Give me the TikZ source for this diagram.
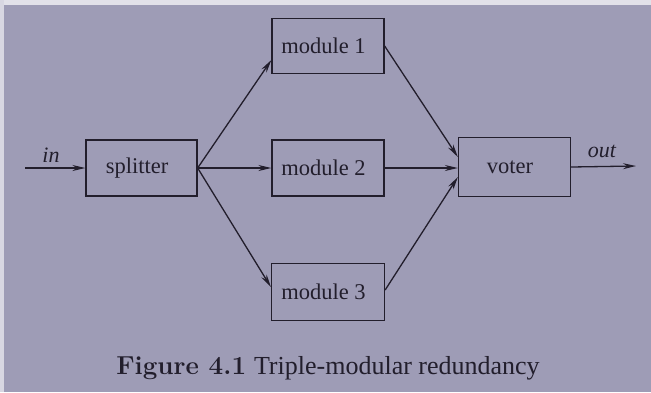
\documentclass[tikz,border=0pt]{standalone}
\usepackage{fontspec}
\newfontfamily\tfont{Liberation Serif}
\usetikzlibrary{arrows.meta}
\definecolor{page}{RGB}{158,156,182}
\definecolor{ink}{RGB}{34,30,44}
\tikzset{
  blk/.style={draw=ink, line width=1.3pt, minimum width=112pt, minimum height=56pt, inner sep=0pt, font=\tfont\fontsize{22.5}{27}\selectfont, text=ink, execute at end node={\hspace{9pt}}},
  conn/.style={draw=ink, line width=1.3pt, -{Stealth[length=13pt,width=6pt]}},
  lbl/.style={font=\tfont\itshape\fontsize{22}{26}\selectfont, text=ink, inner sep=0pt}
}
\begin{document}
\begin{tikzpicture}[x=1pt,y=-1pt]
\fill[page] (0,0) rectangle (651,392);
\fill[white!70!page] (0,0) rectangle (651,5);
\fill[white!60!page] (0,0) rectangle (4,392);
\useasboundingbox (0,0) rectangle (651,392);
\node[blk, minimum width=111pt] (sp) at (141.5,168) {splitter};
\node[blk, minimum height=55pt] (m1) at (328,46) {module 1};
\node[blk] (m2) at (328,168) {module 2};
\node[blk, minimum width=113pt, minimum height=57pt] (m3) at (328,292) {module 3};
\node[blk, minimum height=59pt] (vo) at (514.5,167) {voter};
\coordinate (in) at (25,168);
\coordinate (out) at (636,166);
\draw[conn] (in) -- (sp.west);
\draw[conn] (sp.east) -- ([yshift=-14pt]m1.west);
\draw[conn] (sp.east) -- (m2.west);
\draw[conn] (sp.east) -- ([yshift=5pt]m3.west);
\draw[conn] (m1.east) -- ([yshift=10pt]vo.west);
\draw[conn] (m2.east) -- ([yshift=-1pt]vo.west);
\draw[conn] ([yshift=2pt]m3.east) -- ([yshift=-10pt]vo.west);
\draw[conn] (vo.east) -- (out);
\node[lbl] (inl) at (51,155) {in};
\node[lbl] (outl) at (602,151) {out};
\node[text=ink, inner sep=0pt] (cap) at (328,368) {\fontsize{26}{30}\selectfont\textbf{Figure 4.1} \tfont Triple-modular redundancy};
\end{tikzpicture}
\end{document}
